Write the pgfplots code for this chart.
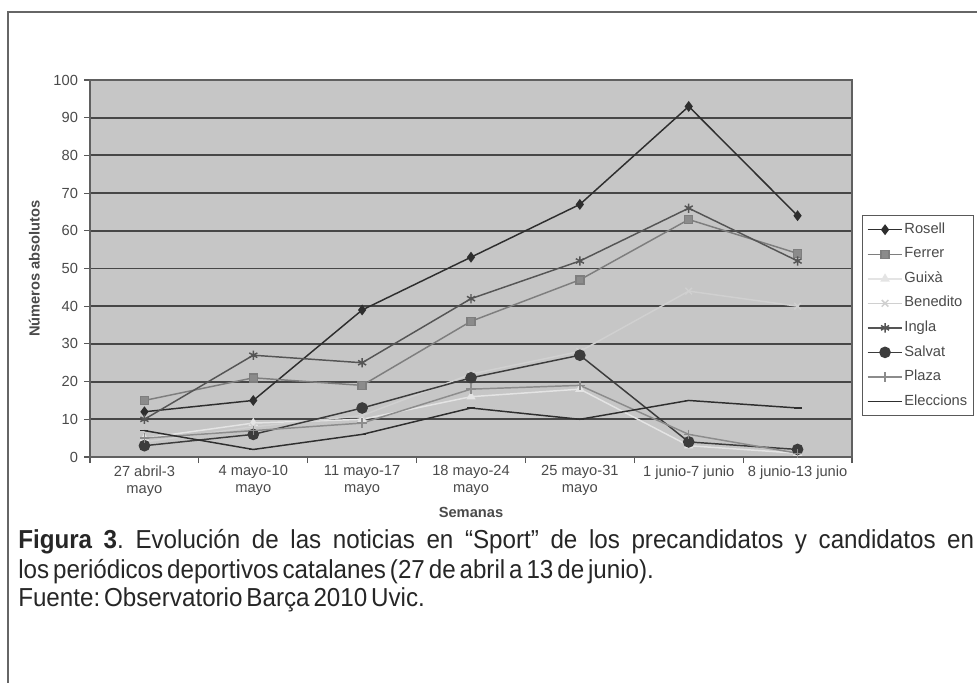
\documentclass[border=0pt]{standalone}
\usepackage{pgfplots}
\pgfplotsset{compat=1.18}
\usepackage{fontspec}
\setmainfont{Liberation Sans}
\newfontfamily\capfont[FakeStretch=0.93]{Liberation Sans}
\definecolor{bgc}{HTML}{C6C6C6}
\definecolor{gridc}{HTML}{474747}
\definecolor{txtc}{HTML}{4A4A4A}
\definecolor{cRosell}{HTML}{2E2E2E}
\definecolor{cFerrer}{HTML}{7E7E7E}
\definecolor{cGuixa}{HTML}{E4E4E4}
\definecolor{cBenedito}{HTML}{D0D0D0}
\definecolor{cIngla}{HTML}{555555}
\definecolor{cSalvat}{HTML}{3C3C3C}
\definecolor{cPlaza}{HTML}{8C8C8C}
\definecolor{cElecc}{HTML}{2E2E2E}
\newcommand\capsetup{\capfont\fontsize{19.5}{21}\selectfont\frenchspacing\spaceskip=0.15em plus 1fil\relax}
\begin{document}
\begin{tikzpicture}
\path[use as bounding box] (0,0) rectangle (732.75pt,-511.5pt);
\draw[color=gray!80!black, line width=1pt] (6pt,-515pt) -- (6pt,-9pt) -- (740pt,-9pt);
\begin{axis}[
  at={(67.5pt,-342.75pt)}, anchor=south west,
  scale only axis, width=571.5pt, height=282.75pt,
  xmin=-0.5, xmax=6.5, ymin=0, ymax=100,
  xtick={-0.5,0.5,...,6.5},
  x tick label as interval,
  xticklabels={{27 abril-3\\mayo},{4 mayo-10\\mayo},{11 mayo-17\\mayo},{18 mayo-24\\mayo},{25 mayo-31\\mayo},{1 junio-7 junio},{8 junio-13 junio}},
  ytick={0,10,...,100},
  tick pos=left,
  tick align=outside,
  major tick length=4.5pt,
  tick style={color=gray!70!black, line width=0.8pt},
  ymajorgrids,
  major grid style={color=gridc, line width=1.4pt},
  axis background/.style={fill=bgc},
  axis line style={draw=gray!75!black, line width=0.8pt},
  /pgf/number format/assume math mode=true,
  ticklabel style={font=\fontsize{11}{13}\selectfont, text=txtc},
  yticklabel style={xshift=-1pt},
  xticklabel style={align=center, font=\fontsize{11}{12.5}\selectfont, text=txtc, yshift=1.5pt},
  xlabel={\bfseries Semanas},
  ylabel={\bfseries Números absolutos},
  xlabel style={font=\fontsize{11}{13}\selectfont, text=txtc, at={(axis description cs:0.5,-0.148)}, anchor=center},
  ylabel style={font=\fontsize{11}{13}\selectfont, text=txtc, at={(axis description cs:-0.073,0.5)}, anchor=center},
  legend style={at={(1.013,0.642)}, anchor=north west, draw=gray!70!black, line width=0.6pt,
    font=\fontsize{11}{13}\selectfont, text=txtc, row sep=5.9pt, inner xsep=3.5pt, inner ysep=4.5pt,
    nodes={inner sep=1pt, text height=8pt, text depth=2.5pt}},
  legend cell align=left,
  legend image code/.code={\draw[mark repeat=2,mark phase=2,#1] plot coordinates {(0pt,0pt) (13pt,0pt) (26pt,0pt)};},
  every axis plot/.append style={line width=1.1pt},
]
\addplot[color=cRosell, mark=diamond*, mark size=3.2pt, mark options={fill=cRosell}] coordinates {(0,12) (1,15) (2,39) (3,53) (4,67) (5,93) (6,64)};
\addlegendentry{Rosell}
\addplot[color=cFerrer, mark=square*, mark size=3pt, mark options={fill=cFerrer!90!white}] coordinates {(0,15) (1,21) (2,19) (3,36) (4,47) (5,63) (6,54)};
\addlegendentry{Ferrer}
\addplot[color=cGuixa, mark=triangle*, mark size=3pt, mark options={fill=cGuixa}] coordinates {(0,5) (1,9) (2,10) (3,16) (4,18) (5,3) (6,1)};
\addlegendentry{Guixà}
\addplot[color=cBenedito, mark=x, mark size=3.5pt] coordinates {(0,4) (1,8) (2,11) (3,22) (4,28) (5,44) (6,40)};
\addlegendentry{Benedito}
\addplot[color=cIngla, mark=asterisk, mark size=3.5pt] coordinates {(0,10) (1,27) (2,25) (3,42) (4,52) (5,66) (6,52)};
\addlegendentry{Ingla}
\addplot[color=cSalvat, mark=*, mark size=3.8pt, mark options={fill=cSalvat}] coordinates {(0,3) (1,6) (2,13) (3,21) (4,27) (5,4) (6,2)};
\addlegendentry{Salvat}
\addplot[color=cPlaza, mark=+, mark size=3.5pt] coordinates {(0,5) (1,7) (2,9) (3,18) (4,19) (5,6) (6,1)};
\addlegendentry{Plaza}
\addplot[color=cElecc, mark=-, mark size=3pt] coordinates {(0,7) (1,2) (2,6) (3,13) (4,10) (5,15) (6,13)};
\addlegendentry{Eleccions}
\end{axis}
\node[anchor=base west, inner sep=0, font=\capsetup, text=black!85] at (13.5pt,-411.5pt) {\makebox[717pt][s]{\textbf{Figura 3}. Evolución de las noticias en “Sport” de los precandidatos y candidatos en}};
\node[anchor=base west, inner sep=0, font=\capsetup, text=black!85] at (13.5pt,-433.5pt) {los periódicos deportivos catalanes (27 de abril a 13 de junio).};
\node[anchor=base west, inner sep=0, font=\capsetup, text=black!85] at (13.5pt,-455pt) {Fuente: Observatorio Barça 2010 Uvic.};
\end{tikzpicture}
\end{document}
